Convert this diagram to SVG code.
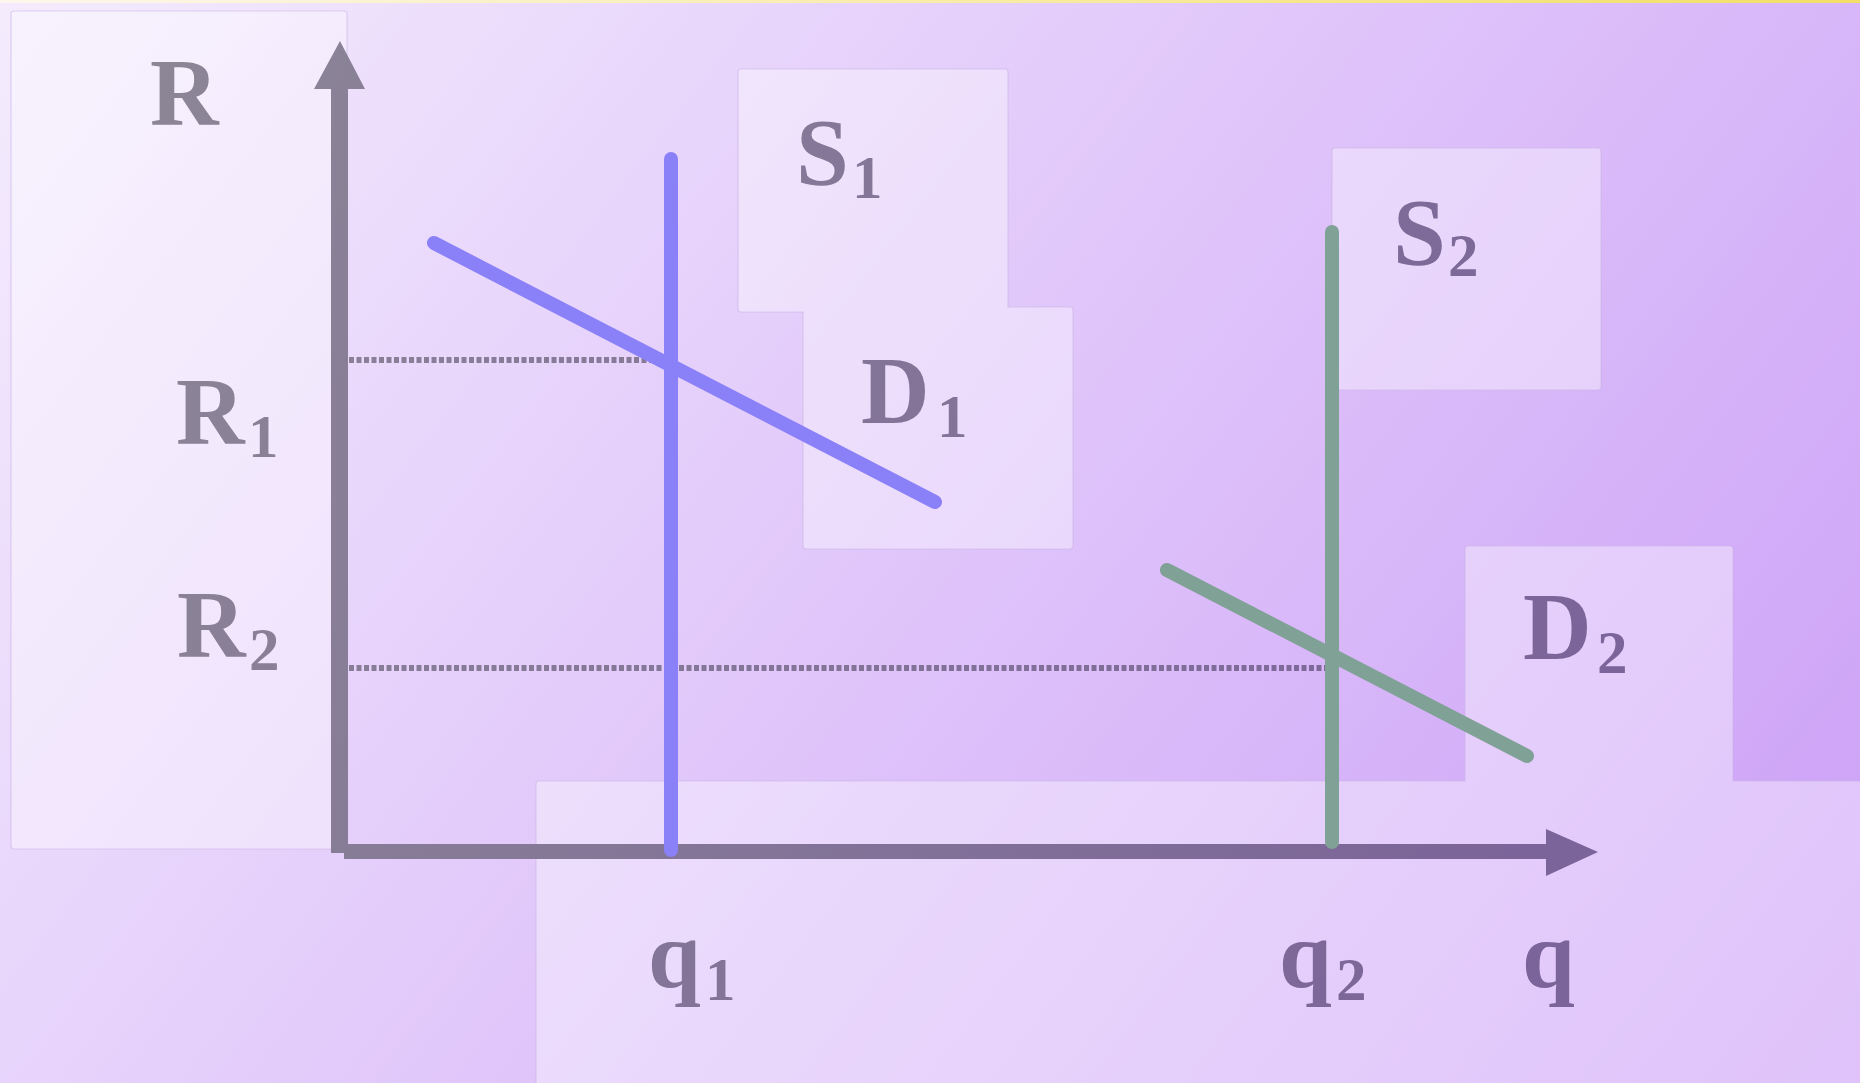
<svg xmlns="http://www.w3.org/2000/svg" width="1860" height="1083" viewBox="0 0 1860 1083">
<defs>
<linearGradient id="bg" gradientUnits="userSpaceOnUse" x1="0" y1="0" x2="1690" y2="1303">
<stop offset="0" stop-color="#f4ecfd"/>
<stop offset="1" stop-color="#cb9ef7"/>
</linearGradient>
<linearGradient id="topbar" gradientUnits="userSpaceOnUse" x1="0" y1="0" x2="1860" y2="0">
<stop offset="0" stop-color="#fdf7ee"/>
<stop offset="0.5" stop-color="#f8eca8"/>
<stop offset="1" stop-color="#f2de66"/>
</linearGradient>
<linearGradient id="ink" gradientUnits="userSpaceOnUse" x1="150" y1="0" x2="1650" y2="500">
<stop offset="0" stop-color="#8c8696"/>
<stop offset="1" stop-color="#7b6499"/>
</linearGradient>
<style>
.panel{fill:#ffffff;fill-opacity:0.38;stroke:#c9b2e6;stroke-opacity:0.55;stroke-width:1.2}
.lbl{font-family:"Liberation Serif","Times New Roman",serif;font-weight:bold;font-size:95px;fill:url(#ink)}
.sub{font-size:61px}
.axis{fill:url(#ink)}
.blue{stroke:#8a80f7;stroke-width:14;stroke-linecap:round;fill:none}
.green{stroke:#80a195;stroke-width:14;stroke-linecap:round;fill:none}
.dots{stroke:url(#ink);stroke-width:6;stroke-dasharray:5 2.5;fill:none}
</style>
</defs>
<rect x="0" y="0" width="1860" height="1083" fill="url(#bg)"/>
<rect x="0" y="0" width="1860" height="3" fill="url(#topbar)"/>

<g id="panels">
<rect id="panel-left" class="panel" x="11" y="11" width="336" height="838" rx="3"/>
<path id="panel-S1-D1" class="panel" d="M741,69 H1005 Q1008,69 1008,72 V307 H1070 Q1073,307 1073,310 V546 Q1073,549 1070,549 H806 Q803,549 803,546 V312 H741 Q738,312 738,309 V72 Q738,69 741,69 Z"/>
<rect id="panel-S2" class="panel" x="1332" y="148" width="269" height="242" rx="3"/>
<path id="panel-D2-bottom" class="panel" d="M536,1090 V784 Q536,781 539,781 H1465 V549 Q1465,546 1468,546 H1730 Q1733,546 1733,549 V781 H1870 V1090 Z"/>
</g>

<g id="connectors">
<rect id="axis-v" class="axis" x="331" y="88" width="17" height="765"/>
<polygon id="axis-v-head" class="axis" points="340,41 365,89 314,89"/>
<rect id="axis-h" class="axis" x="344" y="844" width="1204" height="15"/>
<polygon id="axis-h-head" class="axis" points="1598,852 1546,829 1546,876"/>
<line id="dots-R1" class="dots" x1="349" y1="360" x2="671" y2="360"/>
<line id="dots-R2" class="dots" x1="349" y1="668" x2="1332" y2="668"/>
<line id="S1" class="blue" x1="671" y1="159" x2="671" y2="850"/>
<line id="D1" class="blue" x1="434" y1="243" x2="935" y2="502"/>
<line id="S2" class="green" x1="1332" y1="232" x2="1332" y2="842"/>
<line id="D2" class="green" x1="1167" y1="570" x2="1527" y2="756"/>
</g>

<g id="label-R"><text class="lbl" x="150" y="125">R</text></g>
<g id="label-R1"><text class="lbl" x="176" y="444">R<tspan class="sub" x="248" y="457">1</tspan></text></g>
<g id="label-R2"><text class="lbl" x="177" y="657">R<tspan class="sub" x="249" y="670">2</tspan></text></g>
<g id="label-S1"><text class="lbl" x="796" y="185">S<tspan class="sub" x="852" y="198">1</tspan></text></g>
<g id="label-D1"><text class="lbl" x="861" y="423">D<tspan class="sub" x="937" y="437">1</tspan></text></g>
<g id="label-S2"><text class="lbl" x="1393" y="265">S<tspan class="sub" x="1448" y="276">2</tspan></text></g>
<g id="label-D2"><text class="lbl" x="1523" y="659">D<tspan class="sub" x="1597" y="673">2</tspan></text></g>
<g id="label-q1"><text class="lbl" x="648" y="987">q<tspan class="sub" x="705" y="1000">1</tspan></text></g>
<g id="label-q2"><text class="lbl" x="1279" y="987">q<tspan class="sub" x="1336" y="1000">2</tspan></text></g>
<g id="label-q"><text class="lbl" x="1522" y="987">q</text></g>
</svg>
